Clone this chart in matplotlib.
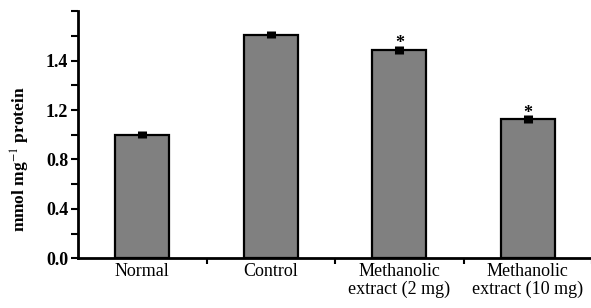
import matplotlib
matplotlib.use("Agg")
import matplotlib.pyplot as plt
import numpy as np

# data (y axis units)
groups = ["Normal", "Control", "Methanolic\nextract (2 mg)", "Methanolic\nextract (10 mg)"]
values = [1.00, 1.81, 1.685, 1.127]
errors = [0.028, 0.028, 0.035, 0.03]
significant = [False, False, True, True]

# the original axis prints "1.4" where 1.6 should be
ytick_pos = [0.0, 0.4, 0.8, 1.2, 1.6]
ytick_labels = ["0.0", "0.4", "0.8", "1.2", "1.4"]

plt.rcParams['font.family'] = ['Liberation Serif', 'DejaVu Serif']
plt.rcParams['mathtext.fontset'] = 'stix'

fig = plt.figure(figsize=(5.91, 3.08), dpi=100)
ax = fig.add_axes([0.132, 0.161, 0.870, 0.803])

x = np.arange(len(groups))
ax.bar(x, values, width=0.42, color="#808080", edgecolor="black", linewidth=1.6, zorder=2)
ax.errorbar(x, values, yerr=errors, fmt="none", ecolor="black", elinewidth=6.5, capsize=0, zorder=3)

for xi, v, e, s in zip(x, values, errors, significant):
    if s:
        ax.annotate("*", (xi, v + e), xytext=(0, -4.5), textcoords="offset points",
                    ha="center", va="bottom", fontsize=13, fontweight="bold")

ax.set_xlim(-0.5, 3.5)
ax.set_ylim(0, 2.0)
ax.set_yticks(ytick_pos)
ax.set_yticklabels(ytick_labels, fontsize=13, fontweight="bold")
ax.set_yticks(np.arange(0, 2.01, 0.2), minor=True)
ax.set_xticks(x)
ax.set_xticklabels(groups, fontsize=13, linespacing=1.05)
ax.set_xticks(list(x[:-1] + 0.5) + [3.5], minor=True)

ax.tick_params(axis="x", which="major", length=0, pad=3)
ax.tick_params(axis="x", which="minor", length=4, width=1.5, direction="out")
ax.tick_params(axis="y", which="both", length=5, width=1.5, direction="out", pad=2)

ax.spines["top"].set_visible(False)
ax.spines["right"].set_visible(False)
ax.spines["left"].set_linewidth(2)
ax.spines["bottom"].set_linewidth(2)

ax.set_ylabel("mmol mg$^{-1}$ protein", fontsize=12.5, fontweight="bold")
ax.yaxis.set_label_coords(-0.09, 0.40)

fig.savefig("out.png", dpi=100)
